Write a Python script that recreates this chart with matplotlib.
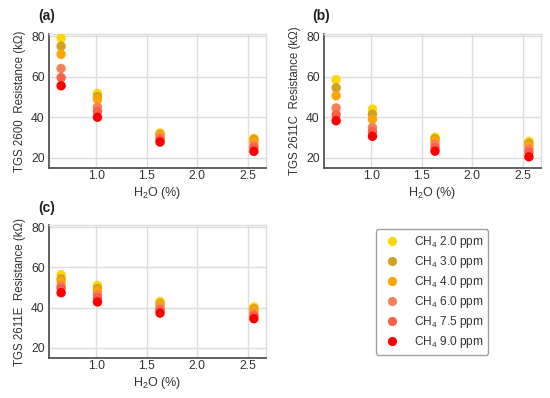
import matplotlib
matplotlib.use("Agg")
import matplotlib.pyplot as plt
from matplotlib.lines import Line2D

plt.rcParams['font.family'] = ['Liberation Sans', 'DejaVu Sans']
plt.rcParams['mathtext.fontset'] = 'custom'
plt.rcParams['mathtext.rm'] = 'Liberation Sans'
plt.rcParams['mathtext.it'] = 'Liberation Sans:italic'
plt.rcParams['mathtext.bf'] = 'Liberation Sans:bold'
plt.rcParams['mathtext.default'] = 'regular'

h2o = [0.65, 1.01, 1.63, 2.56]
ch4_labels = ["2.0", "3.0", "4.0", "6.0", "7.5", "9.0"]
colors = ["#FFD700", "#D4A020", "#FFA500", "#F88058", "#F86048", "#FF0000"]

# resistance (kOhm) per CH4 level, at each H2O level
tgs2600 = [
    [79.0, 51.7, 32.2, 29.6],
    [75.0, 50.2, 31.6, 29.0],
    [71.0, 48.8, 31.0, 28.0],
    [64.0, 45.0, 30.0, 26.2],
    [59.5, 42.8, 29.0, 25.0],
    [55.5, 40.0, 27.8, 23.2],
]
tgs2611c = [
    [58.5, 44.0, 30.1, 28.1],
    [54.5, 41.5, 29.3, 27.1],
    [50.6, 39.0, 28.4, 26.0],
    [44.6, 35.0, 26.8, 24.3],
    [41.3, 32.9, 25.1, 22.7],
    [38.3, 30.6, 23.3, 20.5],
]
tgs2611e = [
    [56.3, 51.0, 43.0, 40.3],
    [54.3, 49.5, 42.1, 39.4],
    [53.0, 48.2, 41.2, 38.4],
    [50.7, 46.3, 39.7, 36.9],
    [49.6, 44.9, 38.7, 35.9],
    [47.4, 42.8, 37.3, 34.5],
]
sensors = ["TGS 2600", "TGS 2611C", "TGS 2611E"]
panel_letters = ["(a)", "(b)", "(c)"]
x_ticks = [1.0, 1.5, 2.0, 2.5]
y_ticks = [20, 40, 60, 80]

W, H = 550, 398
fig = plt.figure(figsize=(W / 100, H / 100), dpi=100)

def rect(l, t, r, b):
    return [l / W, 1 - b / H, (r - l) / W, (b - t) / H]

boxes = [rect(49, 34, 266, 168), rect(324, 34, 541, 168), rect(49, 225, 266, 358)]
letter_pos = [(38, 16), (312, 16), (38, 208)]
datasets = [tgs2600, tgs2611c, tgs2611e]
text_col = "#333333"

for box, data, name, letter, lp in zip(boxes, datasets, sensors, panel_letters, letter_pos):
    ax = fig.add_axes(box)
    for vals, c in zip(data, colors):
        ax.scatter(h2o, vals, s=46, color=c, edgecolors='none', zorder=3)
    ax.set_xlim(0.53, 2.68)
    ax.set_ylim(15, 81)
    ax.set_xticks(x_ticks)
    ax.set_yticks(y_ticks)
    ax.set_xticklabels([f"{v:.1f}" for v in x_ticks])
    ax.grid(True, color="#dddddd", linewidth=1.0, zorder=0)
    ax.tick_params(axis='x', length=0, labelsize=8.8, labelcolor=text_col, pad=1.5)
    ax.tick_params(axis='y', length=0, labelsize=8.8, labelcolor=text_col, pad=3)
    for s in ["top", "right"]:
        ax.spines[s].set_color("#dddddd")
        ax.spines[s].set_linewidth(1.0)
    for s in ["left", "bottom"]:
        ax.spines[s].set_color("#555555")
        ax.spines[s].set_linewidth(1.3)
    ax.set_xlabel("H$_2$O (%)", fontsize=9, color=text_col, labelpad=2)
    ax.set_ylabel(f"{name}  Resistance (kΩ)", fontsize=8.3, color=text_col, labelpad=4)
    fig.text(lp[0] / W, 1 - lp[1] / H, letter, fontsize=10, fontweight='bold',
             color="#222222", va='center', ha='left')

handles = [Line2D([0], [0], marker='o', linestyle='none', markersize=6.6,
                  markerfacecolor=c, markeredgecolor='none') for c in colors]
labels = [f"CH$_4$ {l} ppm" for l in ch4_labels]
leg = fig.legend(handles, labels, loc='center', bbox_to_anchor=(432 / W, 1 - 292 / H),
                 fontsize=8.6, frameon=True, labelspacing=0.33, handletextpad=0.8,
                 borderpad=0.4, handlelength=2.0)
leg.get_frame().set_edgecolor("#888888")
leg.get_frame().set_linewidth(1.0)
leg.get_frame().set_boxstyle("round,pad=0,rounding_size=0.2")
for t in leg.get_texts():
    t.set_color(text_col)

fig.savefig("out.png", dpi=100)
